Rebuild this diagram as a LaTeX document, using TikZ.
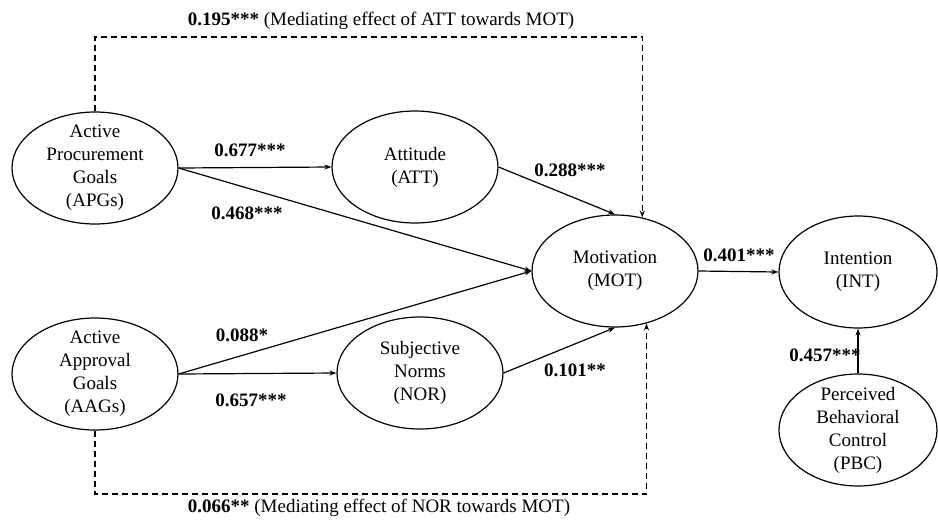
\documentclass[tikz,border=0pt]{standalone}
\usepackage{fontspec}
\setmainfont{Liberation Serif}
\usetikzlibrary{shapes.geometric,arrows.meta}

\begin{document}
\begin{tikzpicture}
  [x=1pt,y=-1pt,line width=1.2pt,>={Stealth[length=7pt,width=5pt]},
   every node/.style={font=\fontsize{19}{23}\selectfont},
   latent/.style={draw,ellipse,align=center,inner sep=-8pt,
     minimum width=166pt,minimum height=112pt},
   coef/.style={font=\fontsize{19}{23}\selectfont\bfseries},
   mediate/.style={dash pattern=on 6pt off 4pt}]
  \useasboundingbox (0,0) rectangle (938,523);

  \node[latent] (apg) at (95,168)  {Active\\Procurement\\Goals\\(APGs)};
  \node[latent] (att) at (415,167) {Attitude\\(ATT)};
  \node[latent] (mot) at (615,271) {Motivation\\(MOT)};
  \node[latent,minimum width=158pt] (int) at (858,272) {Intention\\(INT)};
  \node[latent] (aag) at (95,374)  {Active\\Approval\\Goals\\(AAGs)};
  \node[latent] (nor) at (420,373) {Subjective\\Norms\\(NOR)};
  \node[latent,minimum width=158pt] (pbc) at (858,430) {Perceived\\Behavioral\\Control\\(PBC)};

  \coordinate (toprail) at (0,37);
  \coordinate (botrail) at (0,494);

  \foreach \src/\dst in {apg.east/att.west, apg.east/mot.west, att.east/mot.north,
      aag.east/mot.west, aag.east/nor.west, nor.east/mot.south,
      mot.east/int.west, pbc.north/int.south}
    \draw[->] (\src) -- (\dst);

  % mediating effects
  \draw[mediate,->] (apg.north) |- (mot.63 |- toprail) -- (mot.63);
  \draw[mediate,->] (aag.south) |- (mot.301 |- botrail) -- (mot.301);

  \node[coef] (capgatt) at (250,150) {0.677***};
  \node[coef] (capgmot) at (247,213) {0.468***};
  \node[coef] (cattmot) at (570,170) {0.288***};
  \node[coef] (caagmot) at (242,335) {0.088*};
  \node[coef] (caagnor) at (251,400) {0.657***};
  \node[coef] (cnormot) at (575,370) {0.101**};
  \node[coef] (cmotint) at (739,255) {0.401***};
  \node[coef] (cpbcint) at (825,355) {0.457***};

  \node (medatt) at (381,21)  {\textbf{0.195***} (Mediating effect of ATT towards MOT)};
  \node (mednor) at (379,508) {\textbf{0.066**} (Mediating effect of NOR towards MOT)};
\end{tikzpicture}
\end{document}
